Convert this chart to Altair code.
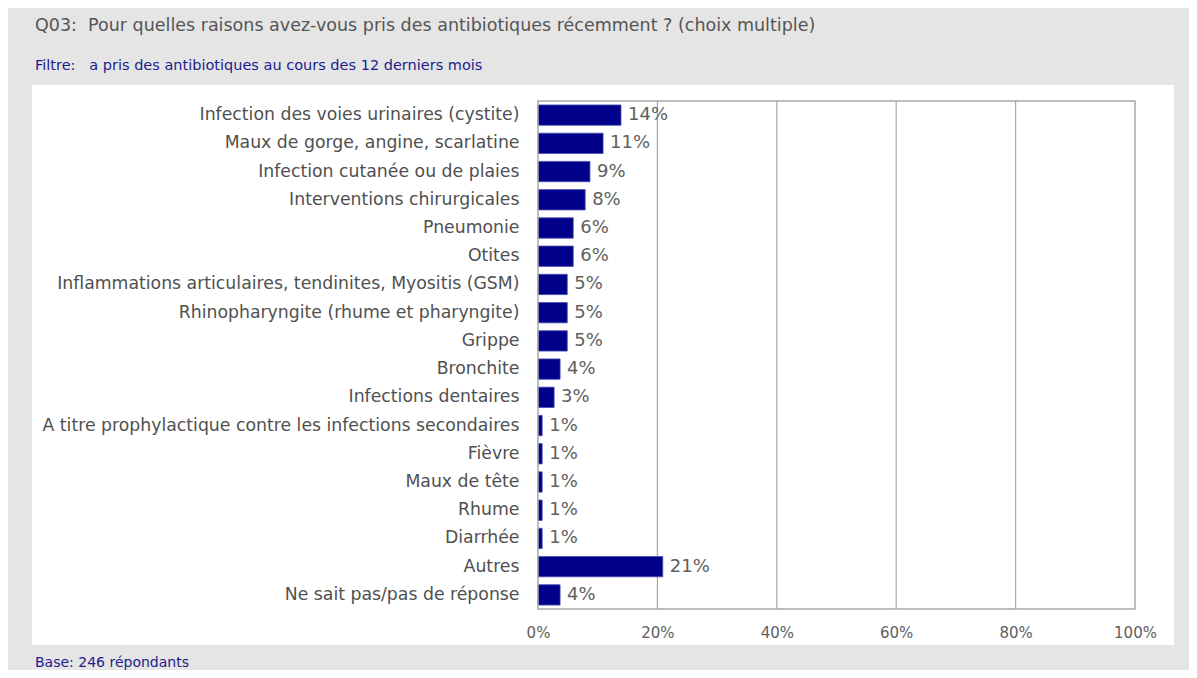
import altair as alt
import pandas as pd

categories = [
    "Infection des voies urinaires (cystite)",
    "Maux de gorge, angine, scarlatine",
    "Infection cutanée ou de plaies",
    "Interventions chirurgicales",
    "Pneumonie",
    "Otites",
    "Inflammations articulaires, tendinites, Myositis (GSM)",
    "Rhinopharyngite (rhume et pharyngite)\u00a0",
    "Grippe",
    "Bronchite",
    "Infections dentaires",
    "A titre prophylactique contre les infections secondaires",
    "Fièvre",
    "Maux de tête",
    "Rhume",
    "Diarrhée",
    "Autres",
    "Ne sait pas/pas de réponse",
]
values = [13.9, 10.9, 8.7, 7.9, 5.9, 5.9, 4.9, 4.9, 4.9, 3.7, 2.7, 0.7, 0.7, 0.7, 0.7, 0.7, 20.9, 3.7]
value_labels = ["14%", "11%", "9%", "8%", "6%", "6%", "5%", "5%", "5%", "4%", "3%",
                "1%", "1%", "1%", "1%", "1%", "21%", "4%"]
grid_values = [20, 40, 60, 80]
tick_values = [0, 20, 40, 60, 80, 100]

title_text = "Q03:\u00a0\u00a0Pour quelles raisons avez-vous pris des antibiotiques récemment ? (choix multiple)"
filter_text = "Filtre:\u00a0\u00a0\u00a0a pris des antibiotiques au cours des 12 derniers mois"
base_text = "Base: 246 répondants"

FONT = "DejaVu Sans"
W, H = 597, 508
GRID = "#a8a8a8"

df = pd.DataFrame({"cat": categories, "val": values, "lab": value_labels})

panel = alt.Chart(pd.DataFrame({"a": [0]})).mark_rect(fill="white").encode(
    x=alt.value(-506), x2=alt.value(636), y=alt.value(-16), y2=alt.value(544)
)

xaxis = alt.Axis(values=tick_values, labelExpr="datum.value + '%'",
                 title=None, ticks=False, domain=False, grid=False,
                 labelPadding=16, zindex=1, labelFlush=False,
                 labelFont=FONT, labelFontSize=15, labelColor="#606060")
xscale = alt.Scale(domain=[0, 100], nice=False)
yscale = alt.Scale(domain=categories, paddingInner=0.28, paddingOuter=0.14)

grid = alt.Chart(pd.DataFrame({"g": grid_values})).mark_rule(color=GRID, strokeWidth=1.2).encode(
    x=alt.X("g:Q", scale=xscale, axis=xaxis)
)

frame = alt.Chart(pd.DataFrame({"a": [0]})).mark_rect(
    fill=None, fillOpacity=0, stroke=GRID, strokeWidth=1.5
).encode(x=alt.value(0), x2=alt.value(W), y=alt.value(0), y2=alt.value(H))

bars = alt.Chart(df).mark_bar(color="#00008B", stroke="#4a4ab0", strokeWidth=0.8).encode(
    x=alt.X("val:Q", scale=xscale, axis=xaxis),
    y=alt.Y("cat:N", scale=yscale, sort=categories,
            axis=alt.Axis(title=None, ticks=False, domain=False, labelPadding=19, zindex=1,
                          labelFont=FONT, labelFontSize=17.3, labelColor="#505050",
                          labelLimit=600)),
)

texts = alt.Chart(df).mark_text(align="left", baseline="middle", dx=7, font=FONT,
                                fontSize=18, color="#606060").encode(
    x=alt.X("val:Q", scale=xscale),
    y=alt.Y("cat:N", scale=yscale, sort=categories),
    text="lab:N",
)

def note(txt, x, y, size, color):
    return alt.Chart(pd.DataFrame({"t": [txt]})).mark_text(
        align="left", baseline="middle", font=FONT, fontSize=size, color=color
    ).encode(text="t:N", x=alt.value(x), y=alt.value(y))

t1 = note(title_text, -503, -75, 17.5, "#555555")
t2 = note(filter_text, -503, -35, 14.5, "#1c1c8c")
t3 = note(base_text, -503, 562, 14, "#1c1c8c")

chart = alt.layer(panel, grid, bars, texts, frame, t1, t2, t3).properties(
    width=W, height=H,
    autosize=alt.AutoSizeParams(type="none"),
    padding={"left": 530, "top": 93, "right": 54, "bottom": 61},
).configure(background="#e5e5e5").configure_view(stroke=None)

chart.save("out.html", embed_options={"renderer": "svg", "actions": False})
